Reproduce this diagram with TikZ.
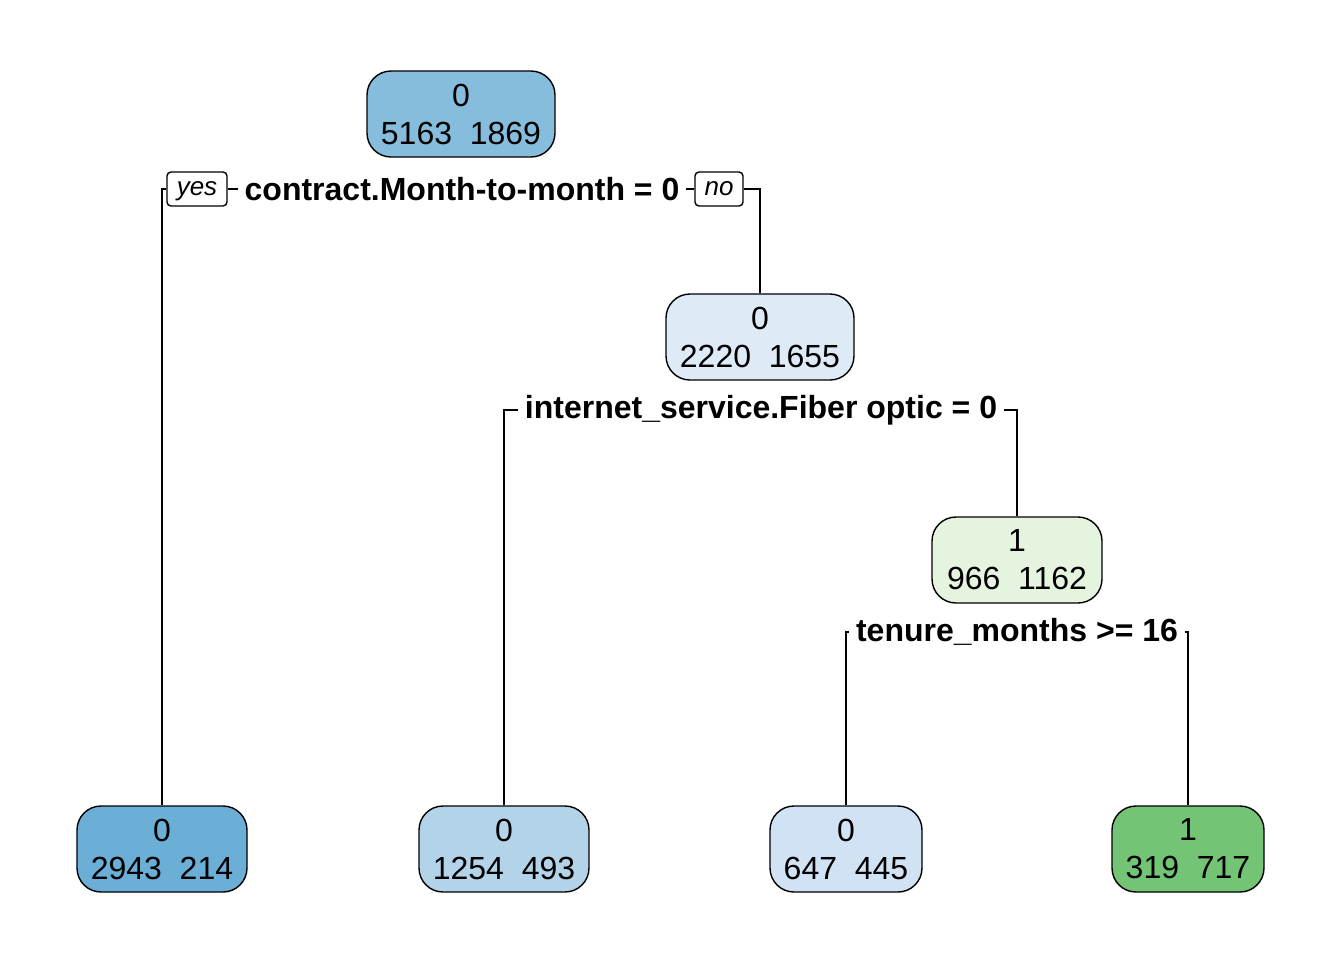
\documentclass[tikz,border=0pt]{standalone}
\usepackage{fontspec}
\setmainfont{Liberation Sans}
\usetikzlibrary{positioning}

\definecolor{blueA}{HTML}{86BCDC}
\definecolor{blueB}{HTML}{6BAED6}
\definecolor{blueC}{HTML}{B3D3E8}
\definecolor{blueD}{HTML}{DEEBF7}
\definecolor{blueE}{HTML}{D0E2F3}
\definecolor{greenA}{HTML}{E5F4DF}
\definecolor{greenB}{HTML}{74C476}

\tikzset{
	treenode/.style={draw, rounded corners=12pt, align=center, inner sep=0pt,
		minimum height=43pt, font=\fontsize{16}{19}\selectfont},
	splitlabel/.style={fill=white, inner sep=3pt, font=\fontsize{16}{18}\selectfont\bfseries},
	yesno/.style={draw, fill=white, rounded corners=2pt, inner sep=0pt, minimum height=17pt,
		text height=1.3ex, text depth=0.1ex, font=\fontsize{13}{15}\selectfont\itshape}
}

\begin{document}
\begin{tikzpicture}[x=0.5pt, y=-0.5pt, line width=0.7pt]
			\useasboundingbox (0,0) rectangle (1344,960);

			\node[treenode, fill=blueA, minimum width=94pt] (root) at (461, 114) {0\\5163\ \ 1869};
			\node[treenode, fill=blueD, minimum width=94pt] (n2) at (760, 337) {0\\2220\ \ 1655};
			\node[treenode, fill=greenA, minimum width=85pt] (n3) at (1017, 560) {1\\966\ \ 1162};

			\node[treenode, fill=blueB, minimum width=85pt] (leaf1) at (162, 849) {0\\2943\ \ 214};
			\node[treenode, fill=blueC, minimum width=85pt] (leaf2) at (504, 849) {0\\1254\ \ 493};
			\node[treenode, fill=blueE, minimum width=76pt] (leaf3) at (846, 849) {0\\647\ \ 445};
			\node[treenode, fill=greenB, minimum width=76pt] (leaf4) at (1188, 849) {1\\319\ \ 717};

			% split labels
			\node[splitlabel] (split1) at (462, 189) {contract.Month-to-month = 0};
			\node[yesno, minimum width=30pt] (yes) at (197, 189) {yes};
			\node[yesno, minimum width=24pt] (no) at (719, 189) {no};
			\node[splitlabel] (split2) at (761, 410) {internet\_service.Fiber optic = 0};
			\node[splitlabel] (split3) at (1017, 632) {tenure\_months >= 16};

			\draw (leaf1.north) |- (yes.west);
			\draw (yes.east) -- (split1.west);
			\draw (split1.east) -- (no.west);
			\draw (no.east) -| (n2.north);

			\draw (leaf2.north) |- (split2.west);
			\draw (split2.east) -| (n3.north);

			\draw (leaf3.north) |- (split3.west);
			\draw (split3.east) -| (leaf4.north);
		\end{tikzpicture}
\end{document}
